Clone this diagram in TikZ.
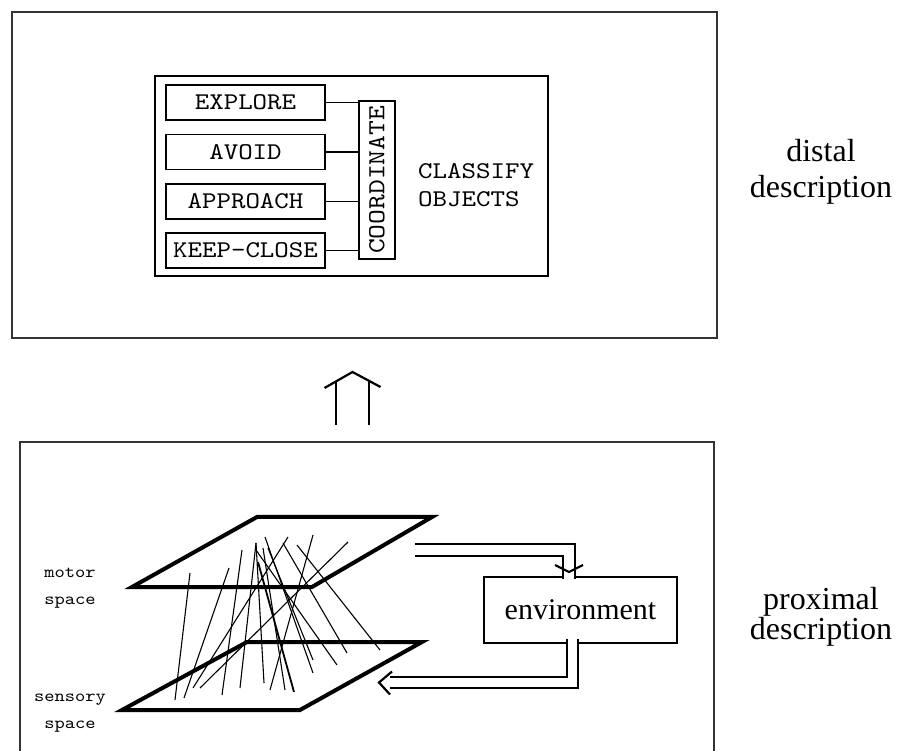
\documentclass[tikz,border=0pt]{standalone}
\usepackage{fontspec}
\setmainfont{Liberation Serif}
\newfontfamily\monofont{lmmono10-regular}[Extension=.otf, FakeStretch=1.15]

\begin{document}
\begin{tikzpicture}[
    x=1pt, y=-1pt,
    frame/.style={draw=black!80, line width=2pt},
    task/.style={rectangle, draw, line width=1.3pt, minimum width=159pt, minimum height=35pt, inner sep=0pt,
      font=\monofont\fontsize{24}{28}\selectfont},
    plane/.style={line width=4pt, line join=miter},
    fibre/.style={line width=1.1pt},
    dblline/.style={double, line width=2.2pt, double distance=9.5pt},
    barb/.style={line width=2.2pt, line join=miter},
    sidetext/.style={align=center, inner sep=0pt, font=\fontsize{32}{36}\selectfont},
    spacetext/.style={align=center, inner sep=0pt, font=\monofont\fontsize{17}{27}\selectfont},
  ]
  \useasboundingbox (0,0) rectangle (898,751);

  % Distal level
  \draw[frame] (12,12) rectangle (717,338);
  \draw[line width=1.3pt] (155,76) rectangle (548,276);
  \node[task] (explore)  at (245.5,102.5) {EXPLORE};
  \node[task] (avoid)    at (245.5,152)   {AVOID};
  \node[task] (approach) at (245.5,201.5) {APPROACH};
  \node[task] (keep)     at (245.5,250.5) {KEEP-CLOSE};
  \node[rectangle, draw, line width=1.3pt, rotate=90, minimum width=158pt, minimum height=36pt, inner sep=0pt,
    font=\monofont\fontsize{24.5}{28}\selectfont] (coord) at (377,180) {COORDINATE};
  \node[anchor=west, align=left, inner sep=0pt,
    font=\monofont\fontsize{24}{28}\selectfont] (classify) at (418,185) {CLASSIFY\\OBJECTS};
  \foreach \t in {explore, avoid, approach, keep}
    \draw[line width=1.3pt] (\t.east) -- (\t.east -| coord.north);
  \node[sidetext] (distal) at (821,172) {distal\\description};

  % Level change
  \coordinate (upfrom) at (352.5,425);
  \coordinate (upto)   at (352.5,372);
  \draw[line width=2.5pt] (upfrom) ++(-16.5,0) -- ++(0,-43);
  \draw[line width=2.5pt] (upfrom) ++(16.5,0) -- ++(0,-43);
  \draw[barb] (upto) ++(-28,16) -- (upto) -- ++(28,15);

  % Proximal level
  \draw[frame] (20,442) rectangle (714,770);
  \draw[plane] (257,517) -- (432,517) -- (312,587) -- (132,587) -- cycle;
  \draw[plane] (247,642) -- (422,642) -- (300,710) -- (122,710) -- cycle;
  \foreach \xa/\ya/\xb/\yb in {190/573/175/700, 229/568/184/698, 242/550/222/695, 256/543/240/688,
      256/543/264/683, 265/537/313/673, 288/537/193/688, 313/535/270/690, 297/545/380/650,
      348/542/200/688, 283/543/347/653, 256/550/337/665, 268/548/313/660, 263/548/285/690}
    \draw[fibre] (\xa,\ya) -- (\xb,\yb);
  \draw[line width=1.8pt] (258,562) -- (294,692);
  \node[spacetext] (motor)   at (70,588) {motor\\space};
  \node[spacetext] (sensory) at (70,713) {sensory\\space};
  \node[rectangle, draw, line width=1.3pt, minimum width=193pt, minimum height=66pt,
    font=\fontsize{30}{36}\selectfont] (env) at (580.5,610) {environment};

  % Motor output to environment
  \coordinate (act)    at (415,550);
  \coordinate (acttip) at (569,572);
  \draw[dblline] (act) -| ([yshift=-7pt]acttip);
  \draw[barb] (acttip) ++(-14,-7) -- (acttip) -- ++(14,-7);

  % Environment back to sensory space
  \coordinate (sense) at (379,682.5);
  \draw[dblline] ([xshift=-8pt,yshift=5pt]env.south) |- ([xshift=11pt]sense);
  \draw[barb] (sense) ++(13,-11) -- (sense) -- ++(11,12);

  \node[sidetext, font=\fontsize{32}{29}\selectfont] (proximal) at (821,617) {proximal\\description};
\end{tikzpicture}
\end{document}
